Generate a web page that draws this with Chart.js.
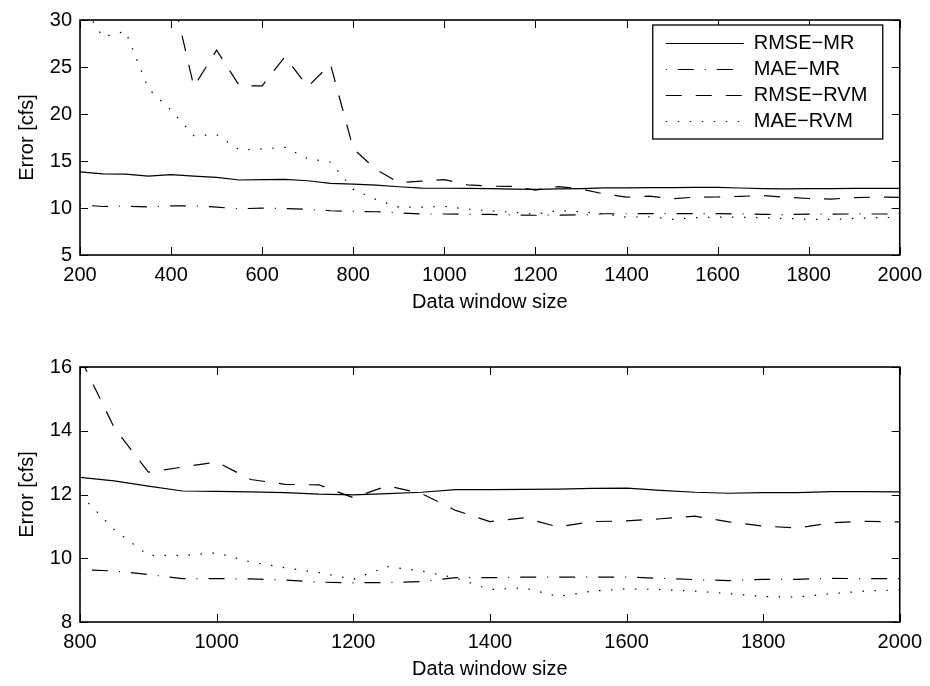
<!DOCTYPE html>
<html>
<head>
<meta charset="utf-8">
<script src="https://cdn.jsdelivr.net/npm/chart.js@4.4.1/dist/chart.umd.min.js"></script>
<style>
  body { margin: 0; background: #fff; }
  #wrap { position: relative; width: 930px; height: 686px; }
  canvas { position: absolute; left: 0; }
</style>
</head>
<body>
<div id="wrap">
  <canvas id="topChart" width="930" height="320" style="top:0"></canvas>
  <canvas id="bottomChart" width="930" height="366" style="top:320px"></canvas>
</div>
<script>
// DATA
const windowSizes = [200, 250, 300, 350, 400, 450, 500, 550, 600, 650, 700, 750,
  800, 850, 900, 950, 1000, 1050, 1100, 1150, 1200, 1250, 1300, 1350, 1400,
  1450, 1500, 1550, 1600, 1650, 1700, 1750, 1800, 1850, 1900, 1950, 2000];

const rmseMR = [13.84, 13.63, 13.6, 13.4, 13.55, 13.4, 13.25, 12.98, 13.02, 13.05, 12.9, 12.62,
  12.54, 12.43, 12.26, 12.11, 12.1, 12.08, 12.06, 12.01, 11.99, 12.03, 12.07, 12.15, 12.15,
  12.16, 12.17, 12.19, 12.2, 12.13, 12.07, 12.04, 12.06, 12.06, 12.09, 12.09, 12.08];

const maeMR = [10.33, 10.16, 10.2, 10.12, 10.22, 10.24, 10.09, 9.92, 9.99, 9.95, 9.85, 9.71,
  9.64, 9.6, 9.49, 9.36, 9.36, 9.35, 9.32, 9.25, 9.23, 9.24, 9.27, 9.39, 9.39,
  9.41, 9.41, 9.41, 9.41, 9.37, 9.33, 9.3, 9.34, 9.34, 9.37, 9.36, 9.36];

const rmseRVM = [38, 37, 36, 35, 33.4, 22.9, 26.8, 23.0, 23.0, 26.1, 22.9, 25.3,
  16.3, 14.1, 12.7, 12.86, 13.02, 12.47, 12.32, 12.3, 11.9, 12.27, 12.03, 11.5, 11.15,
  11.27, 10.98, 11.15, 11.17, 11.24, 11.32, 11.14, 11.01, 10.95, 11.11, 11.16, 11.14];

const maeRVM = [32, 28.2, 28.8, 22.7, 20.4, 17.7, 17.8, 16.18, 16.28, 16.45, 15.25, 14.87,
  12.0, 10.9, 10.09, 10.09, 10.17, 9.88, 9.7, 9.55, 9.34, 9.74, 9.6, 9.38, 9.02,
  9.07, 8.8, 8.97, 9.04, 9.02, 8.97, 8.89, 8.8, 8.78, 8.89, 8.97, 9.01];

const seriesNames = ['RMSE\u2212MR', 'MAE\u2212MR', 'RMSE\u2212RVM', 'MAE\u2212RVM'];
const seriesValues = [rmseMR, maeMR, rmseRVM, maeRVM];

// line styles: solid, dash-dot, dashed, dotted
const dashes = [[], [16, 11, 1, 11], [16, 14], [1.5, 10.5]];
const dashOffsets = [0, 27, 0, 0];

const FONT = { family: 'Liberation Sans, Arial, Helvetica, sans-serif', size: 20 };

// box round the axes + inward ticks on all four sides
const frameTicks = {
  id: 'frameTicks',
  afterDatasetsDraw(chart) {
    const { ctx, chartArea: a, scales: { x, y } } = chart;
    const len = 8;
    ctx.save();
    ctx.strokeStyle = '#000';
    ctx.lineWidth = 1;
    ctx.beginPath();
    x.ticks.forEach(t => {
      const px = Math.round(x.getPixelForValue(t.value)) + 0.5;
      ctx.moveTo(px, a.bottom); ctx.lineTo(px, a.bottom - len);
      ctx.moveTo(px, a.top); ctx.lineTo(px, a.top + len);
    });
    y.ticks.forEach(t => {
      const py = Math.round(y.getPixelForValue(t.value)) + 0.5;
      ctx.moveTo(a.left, py); ctx.lineTo(a.left + len, py);
      ctx.moveTo(a.right, py); ctx.lineTo(a.right - len, py);
    });
    ctx.stroke();
    ctx.lineWidth = 1.6;
    ctx.strokeRect(a.left, a.top, a.right - a.left, a.bottom - a.top);
    ctx.restore();
  }
};

// MATLAB-style boxed legend in the upper right
const boxLegend = {
  id: 'boxLegend',
  afterDraw(chart, args, opts) {
    if (!opts.show) return;
    const { ctx, chartArea: a } = chart;
    const w = 230, h = 114;
    const x0 = a.right - 17 - w, y0 = a.top + 5;
    ctx.save();
    ctx.fillStyle = '#fff';
    ctx.fillRect(x0, y0, w, h);
    ctx.strokeStyle = '#000';
    ctx.lineWidth = 1.3;
    ctx.strokeRect(x0, y0, w, h);
    ctx.font = FONT.size + 'px ' + FONT.family;
    ctx.textBaseline = 'middle';
    ctx.fillStyle = '#000';
    chart.data.datasets.forEach((ds, i) => {
      const yy = Math.round(y0 + 17.7 + i * 26.2) + 0.5;
      ctx.lineWidth = 1.2;
      ctx.setLineDash(ds.borderDash);
      ctx.lineDashOffset = ds.borderDashOffset;
      ctx.beginPath();
      ctx.moveTo(x0 + 13, yy);
      ctx.lineTo(x0 + 91, yy);
      ctx.stroke();
      ctx.setLineDash([]);
      ctx.fillText(ds.label, x0 + 101, yy);
    });
    ctx.restore();
  }
};

function makeDatasets(startIdx) {
  return seriesValues.map((vals, i) => ({
    label: seriesNames[i],
    data: windowSizes.slice(startIdx).map((xv, k) => ({ x: xv, y: vals[startIdx + k] })),
    borderColor: '#000',
    borderWidth: 1.2,
    borderDash: dashes[i],
    borderDashOffset: dashOffsets[i],
    pointRadius: 0,
    tension: 0,
    fill: false
  }));
}

function makeChart(id, startIdx, xr, yr, pad, xHeight, titlePad, legend) {
  return new Chart(document.getElementById(id), {
    type: 'line',
    data: { datasets: makeDatasets(startIdx) },
    options: {
      responsive: false,
      animation: false,
      layout: { padding: { left: 0, right: 30, top: pad, bottom: 0 } },
      plugins: {
        legend: { display: false },
        tooltip: { enabled: false },
        boxLegend: { show: legend }
      },
      scales: {
        x: {
          type: 'linear',
          min: xr[0], max: xr[1],
          grid: { display: false, drawTicks: false },
          border: { display: false },
          ticks: { stepSize: 200, color: '#000', font: FONT, padding: 8, maxRotation: 0,
                   callback: v => String(v) },
          title: { display: true, text: 'Data window size', color: '#000', font: FONT,
                   padding: { top: 0, bottom: titlePad } },
          afterFit: s => { s.height = xHeight; }
        },
        y: {
          min: yr[0], max: yr[1],
          grid: { display: false, drawTicks: false },
          border: { display: false },
          ticks: { stepSize: yr[2], color: '#000', font: FONT, padding: 8,
                   callback: v => String(v) },
          title: { display: true, text: 'Error [cfs]', color: '#000', font: FONT,
                   padding: { top: 15, bottom: 0 } },
          afterFit: s => { s.width = 80; }
        }
      }
    },
    plugins: [frameTicks, boxLegend]
  });
}

// TOP: full range, plot area 80..900 x 13..255
makeChart('topChart', 0, [200, 2000], [5, 30, 5], 13, 65, 6, true);
// BOTTOM: zoom from 800, plot area 80..900 x 367..622 (page)
makeChart('bottomChart', windowSizes.indexOf(800), [800, 2000], [8, 16, 2], 47, 64, 5, false);
</script>
</body>
</html>
